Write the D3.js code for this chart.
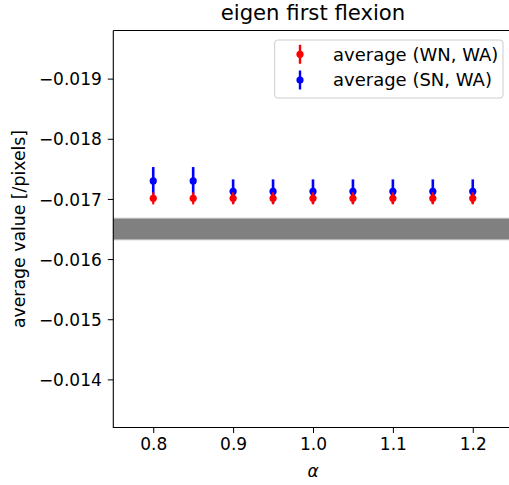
<!DOCTYPE html>
<html><head><meta charset="utf-8">
<script src="https://cdn.jsdelivr.net/npm/d3@7"></script>
<style>body{margin:0;background:#fff}svg{display:block}text{font-family:"DejaVu Sans",sans-serif;fill:#000}</style>
</head><body><svg id="c" width="509" height="485"></svg>
<script>
const alphas = [0.8, 0.85, 0.9, 0.95, 1.0, 1.05, 1.1, 1.15, 1.2];
const wnValues = [-0.01701, -0.01701, -0.01701, -0.01701, -0.01701, -0.01701, -0.01701, -0.01701, -0.01701];
const wnErrors = [0.0001, 0.0001, 0.0001, 0.0001, 0.0001, 0.0001, 0.0001, 0.0001, 0.0001];
const snValues = [-0.0173, -0.0173, -0.017125, -0.017125, -0.017125, -0.017125, -0.017125, -0.017125, -0.017125];
const snErrors = [0.00023, 0.00023, 0.0002, 0.0002, 0.0002, 0.0002, 0.0002, 0.0002, 0.0002];
const bandRange = [-0.01668, -0.01632];
const xTicks = [0.8, 0.9, 1.0, 1.1, 1.2];
const yTicks = [-0.019, -0.018, -0.017, -0.016, -0.015, -0.014];
const seriesNames = ["average (WN, WA)", "average (SN, WA)"];
const seriesColors = ["#ff0000", "#0000ff"];

const svg = d3.select("#c");
const L = 113.3, R = 512.7, T = 30.5, B = 427.5;
const x = d3.scaleLinear().domain([0.75, 1.25]).range([L, R]);
const y = d3.scaleLinear().domain([-0.0198, -0.0132]).range([T, B]);

// band
svg.append("rect").attr("x", L).attr("width", R - L + 10)
  .attr("y", y(bandRange[0])).attr("height", y(bandRange[1]) - y(bandRange[0]))
  .attr("fill", "#808080").attr("stroke", "#c4c4c4").attr("stroke-width", 1);

function drawSeries(vals, errs, color, lw) {
  const g = svg.append("g");
  alphas.forEach((a, i) => {
    g.append("line").attr("x1", x(a)).attr("x2", x(a))
      .attr("y1", y(vals[i] - errs[i])).attr("y2", y(vals[i] + errs[i]))
      .attr("stroke", color).attr("stroke-width", lw);
    g.append("circle").attr("cx", x(a)).attr("cy", y(vals[i])).attr("r", 3.6).attr("fill", color);
  });
}
drawSeries(snValues, snErrors, seriesColors[1], 2.6);
drawSeries(wnValues, wnErrors, seriesColors[0], 2.2);

// axes
const ax = svg.append("g").attr("transform", `translate(0,${B})`)
  .call(d3.axisBottom(x).tickValues(xTicks).tickFormat(d3.format(".1f")).tickSize(5.5).tickPadding(5));
const ay = svg.append("g").attr("transform", `translate(${L},0)`)
  .call(d3.axisLeft(y).tickValues(yTicks).tickFormat(d => "\u2212" + Math.abs(d).toFixed(3)).tickSize(5.5).tickPadding(6));
[ax, ay].forEach(g => {
  g.select(".domain").remove();
  g.selectAll("text").style("font-size", "17px").style("font-family", "DejaVu Sans");
  g.selectAll("line").attr("stroke", "#000").attr("stroke-width", 1);
});
ay.selectAll("text").attr("dy", "0.36em");
ax.selectAll("text").attr("dy", "0.73em");

// spines
svg.append("path").attr("d", `M${L},${T}H${R}M${L},${T}V${B}H${R}`)
  .attr("fill", "none").attr("stroke", "#000").attr("stroke-width", 1.1);

// title & labels
svg.append("text").attr("x", (L + R) / 2).attr("y", 19.5).attr("text-anchor", "middle")
  .style("font-size", "21.2px").text("eigen first flexion");
svg.append("text").attr("x", (L + R) / 2).attr("y", 477).attr("text-anchor", "middle")
  .style("font-size", "17px").style("font-style", "italic").text("\u03b1");
svg.append("text").attr("transform", `translate(25,${(T + B) / 2}) rotate(-90)`)
  .attr("text-anchor", "middle").style("font-size", "17.3px").text("average value [/pixels]");

// legend
const lg = svg.append("g");
lg.append("rect").attr("x", 274.7).attr("y", 40).attr("width", 228.3).attr("height", 58)
  .attr("rx", 3).attr("fill", "#fff").attr("fill-opacity", 0.8).attr("stroke", "#cccccc");
seriesNames.forEach((n, i) => {
  const cy = 54.3 + i * 25.7;
  lg.append("line").attr("x1", 300).attr("x2", 300).attr("y1", cy - 9.5).attr("y2", cy + 9.5)
    .attr("stroke", seriesColors[i]).attr("stroke-width", 2.4);
  lg.append("circle").attr("cx", 300).attr("cy", cy).attr("r", 3.6).attr("fill", seriesColors[i]);
  lg.append("text").attr("x", 333).attr("y", cy + 6.3).style("font-size", "18px").text(n);
});
</script></body></html>
